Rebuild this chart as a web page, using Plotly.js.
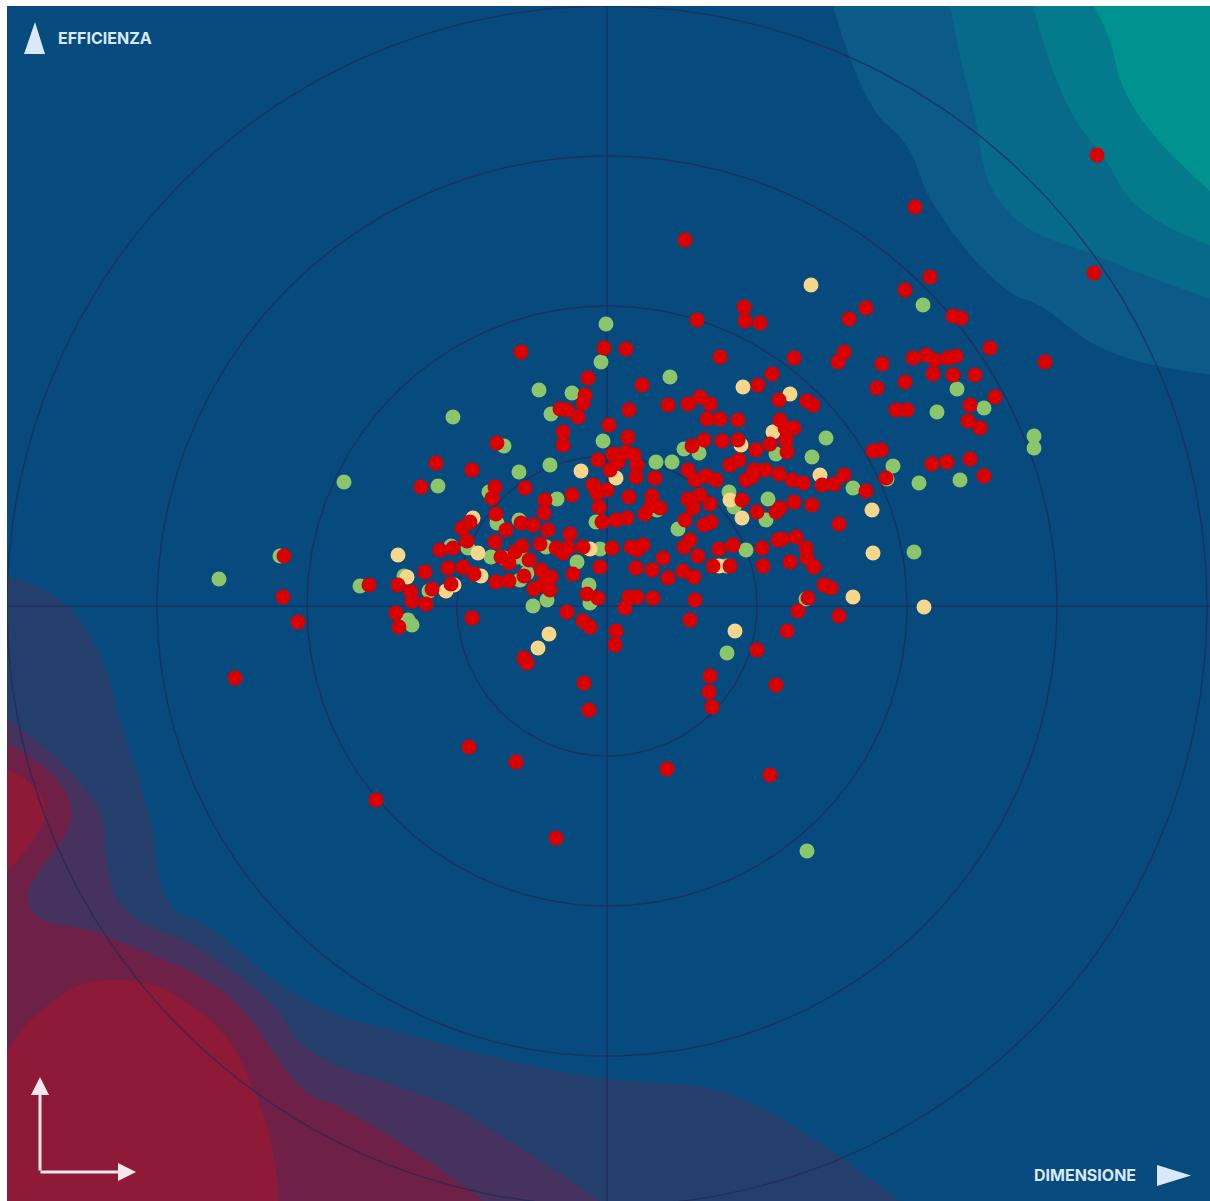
<!DOCTYPE html>
<html>
<head>
<meta charset="utf-8">
<script src="https://cdn.plot.ly/plotly-3.0.1.min.js"></script>
<style>html,body{margin:0;padding:0;background:#fff;}#chart{width:1210px;height:1201px;}</style>
</head>
<body>
<div id="chart"></div>
<script>
// ---- DATA (units: dimensione / efficienza scores, centre = 0) ----
const redPts = [
[490,451],[308,399],[487,333],[78,366],[323,329],[298,316],[259,298],[242,287],[137,299],[138,285],[153,283],[90,286],
[346,290],[354,288],[383,258],[438,244],[-86,254],[-3,258],[19,257],[113,249],[187,248],[237,254],[231,244],[275,242],
[306,248],[319,251],[328,246],[341,248],[349,250],[165,232],[326,232],[346,231],[368,231],[-19,228],[35,221],[151,221],
[270,218],[298,224],[-22,211],[-24,203],[93,209],[103,202],[200,205],[206,201],[172,206],[388,209],[-47,197],[-40,196],
[-29,189],[22,196],[61,201],[81,202],[100,187],[113,187],[131,186],[173,186],[178,178],[187,178],[289,196],[300,196],
[361,185],[373,178],[363,201],[-44,174],[-44,161],[2,181],[21,169],[-110,163],[6,152],[19,154],[27,151],[11,144],
[30,141],[-9,146],[85,160],[97,166],[115,165],[131,166],[132,146],[149,156],[163,162],[179,166],[180,154],[123,141],
[147,136],[266,155],[274,156],[325,142],[340,144],[363,147],[-171,143],[-135,136],[3,136],[-186,119],[-112,119],[-82,118],
[-14,121],[-10,113],[0,116],[29,129],[48,128],[81,136],[88,126],[99,130],[109,126],[139,126],[145,129],[158,136],
[172,132],[185,126],[196,123],[215,121],[227,122],[237,131],[259,115],[279,128],[377,130],[-115,108],[-62,106],[-63,93],
[-35,111],[-8,99],[22,109],[45,110],[53,98],[81,107],[86,98],[93,111],[103,102],[135,106],[150,94],[169,94],
[173,98],[187,104],[205,101],[-145,78],[-137,84],[-111,92],[-101,76],[-86,83],[-74,81],[-59,76],[-37,72],[-5,84],
[9,86],[20,88],[38,92],[44,100],[78,86],[97,81],[104,84],[175,67],[189,69],[232,82],[-167,56],[-154,58],
[-140,65],[-112,64],[-92,54],[-85,60],[-67,62],[-51,58],[-44,53],[-39,58],[-24,59],[5,58],[24,59],[30,56],
[36,61],[56,48],[77,59],[83,66],[91,50],[112,57],[126,61],[155,58],[171,66],[199,58],[200,48],[207,39],
[76,35],[87,29],[106,40],[123,40],[156,40],[183,44],[-182,34],[-159,38],[-144,39],[-133,32],[-106,49],[-98,43],
[-78,46],[-66,36],[-56,29],[-34,32],[-7,39],[29,38],[45,36],[-238,21],[-209,21],[-196,14],[-175,17],[-156,22],
[-195,5],[-181,2],[-323,50],[-324,9],[-309,-16],[-211,-7],[-208,-21],[-135,-12],[-111,24],[-98,25],[-83,30],[-73,17],
[-65,21],[-57,16],[-40,-6],[-20,12],[-9,8],[18,-2],[22,9],[30,9],[46,8],[61,28],[88,6],[191,-5],
[201,8],[217,21],[224,18],[232,-10],[180,-25],[83,-14],[-24,-15],[-17,-21],[9,-25],[8,-39],[-83,-52],[-80,-57],
[-372,-72],[-23,-77],[-18,-104],[103,-70],[102,-86],[105,-101],[150,-44],[169,-79],[-138,-141],[-91,-156],[60,-163],[163,-169],
[-231,-194],[-51,-232]
];
const greenPts = [
[-1,282],[316,301],[-6,244],[63,229],[-68,216],[-35,213],[350,217],[-154,189],[-56,192],[330,194],[377,198],[219,168],
[427,170],[427,158],[-4,165],[-103,160],[77,157],[92,153],[169,152],[49,144],[65,144],[-57,141],[205,149],[286,140],
[-263,124],[-169,120],[-88,134],[-118,114],[-50,107],[122,114],[161,107],[246,118],[280,127],[312,123],[353,126],[-110,83],
[-88,86],[-11,84],[50,96],[71,77],[159,86],[127,99],[-156,60],[-139,58],[-116,49],[-103,48],[-90,49],[-61,59],
[-7,57],[-30,44],[-81,46],[139,56],[307,54],[-80,33],[-87,26],[-18,21],[119,40],[-388,27],[-327,50],[-247,20],
[-203,30],[-178,15],[-17,3],[-74,0],[-60,6],[199,7],[-199,-14],[-195,-19],[120,-47],[200,-245]
];
const yellowPts = [
[204,321],[136,219],[183,212],[166,174],[134,161],[-26,135],[9,128],[213,131],[123,106],[-134,88],[265,96],[135,88],
[-209,51],[-129,53],[-17,57],[266,53],[112,40],[-126,30],[-200,29],[-161,15],[-153,21],[246,9],[317,-1],[-58,-28],
[-69,-42],[128,-25]
];
// background density surface (rows from top y=600 to bottom y=-600)
const gridX = [-600,-500,-400,-300,-200,-100,0,100,200,300,400,500,610];
const gridY = [600,500,400,300,200,100,0,-100,-200,-300,-400,-500,-600];
const gridZ = [
[0,0,0,0,0,0,0,0.3,0.8,1.57,2.57,4.22,5],
[0,0,0,0,0,0,0,0.2,0.5,1.27,2.39,3.39,6],
[0,0,0,0,0,0,0,0.1,0.3,0.6,2.05,2.7,3.8],
[0,0,0,0,0,0,0,0,0.1,0.3,0.8,1.4,1.9],
[0,0,0,0,0,0,0,0,0,0.1,0.3,0.5,0.6],
[-0.3,0,0,0,0,0,0,0,0,0,0,0,0],
[-1.3,-0.8,0,0,0,0,0,0,0,0,0,0,0],
[-1.5,-1.1,0,0,0,0,0,0,0,0,0,0,0],
[-5.5,-1.6,-0.1,0,0,0,0,0,0,0,0,0,0],
[-3.2,-2.3,-0.3,-0.2,0,0,0,0,0,0,0,0,0],
[-3.6,-4.6,-3.9,-1.05,-0.5,-0.3,-0.2,-0.1,-0.1,0,0,0,0],
[-4.5,-5,-4.8,-3.3,-2.3,-1.6,-1.3,-1.2,-0.8,-0.3,0,0,0],
[-5,-5,-5,-3.6,-4,-2.8,-2.0,-1.6,-1.5,-1.0,-0.4,0,0]
];
const ringRadii = [150, 300, 450, 600];
const xRange = [-600, 603];
const yRange = [-595, 600];

// ---- STYLE ----
const C = {
  base:'#064a7e', r1:'#243f6b', r2:'#45325f', r3:'#6e2046', r4:'#8e1a37',
  t1:'#0b5a88', t2:'#076a8b', t3:'#037b8d', t4:'#00928f',
  ring:'rgba(36,42,86,0.75)', red:'#d90000', green:'#8cc66b', yellow:'#f6d68a', label:'#d9e9f8'
};

const traces = [];
traces.push({
  type:'contour', x:gridX, y:gridY.slice().reverse(), z:gridZ.slice().reverse(),
  autocontour:false, contours:{start:-4, end:4, size:1, coloring:'fill', showlines:false},
  line:{width:0, smoothing:1.3}, showscale:false, hoverinfo:'skip',
  colorscale:[[0,C.r4],[1/9,C.r3],[2/9,C.r2],[3/9,C.r1],[4/9,C.base],[5/9,C.base],[6/9,C.t1],[7/9,C.t2],[8/9,C.t3],[1,C.t4]]
});
ringRadii.forEach(r => {
  const xs = [], ys = [];
  for (let a = 0; a <= 360; a += 1) { xs.push(r*Math.cos(a*Math.PI/180)); ys.push(r*Math.sin(a*Math.PI/180)); }
  traces.push({type:'scatter', mode:'lines', x:xs, y:ys, line:{color:C.ring, width:1.4}, hoverinfo:'skip', showlegend:false});
});
traces.push({type:'scatter', mode:'lines', x:[xRange[0], xRange[1]], y:[0,0], line:{color:C.ring, width:1.4}, hoverinfo:'skip'});
traces.push({type:'scatter', mode:'lines', x:[0,0], y:[yRange[0], yRange[1]], line:{color:C.ring, width:1.4}, hoverinfo:'skip'});

function pts(list, color){
  return {type:'scatter', mode:'markers', x:list.map(p=>p[0]), y:list.map(p=>p[1]),
    marker:{color:color, size:15, line:{width:0}}, hoverinfo:'skip'};
}
traces.push(pts(greenPts, C.green));
traces.push(pts(yellowPts, C.yellow));
traces.push(pts(redPts, C.red));

const W = 1210, H = 1201, ml = 7, mt = 6;
const pw = W - ml, ph = H - mt;
const px = v => (v - ml) / pw;
const py = v => (H - v) / ph;

const layout = {
  width:W, height:H, margin:{l:ml, r:0, t:mt, b:0, pad:0},
  paper_bgcolor:'#ffffff', plot_bgcolor:C.base, showlegend:false,
  xaxis:{range:xRange, showgrid:false, zeroline:false, showticklabels:false, ticks:'', fixedrange:true},
  yaxis:{range:yRange, showgrid:false, zeroline:false, showticklabels:false, ticks:'', fixedrange:true},
  shapes:[
    {type:'path', xref:'paper', yref:'paper', line:{width:0}, fillcolor:C.label,
     path:`M ${px(35)} ${py(22)} L ${px(45)} ${py(54)} L ${px(24)} ${py(54)} Z`},
    {type:'path', xref:'paper', yref:'paper', line:{width:0}, fillcolor:C.label,
     path:`M ${px(1157)} ${py(1165)} L ${px(1191)} ${py(1175.5)} L ${px(1157)} ${py(1186)} Z`}
  ],
  annotations:[
    {xref:'paper', yref:'paper', x:px(56), y:py(38), xanchor:'left', yanchor:'middle', showarrow:false,
     text:'<b>EFFICIENZA</b>', font:{family:'Inter, Roboto, sans-serif', size:16, color:C.label}},
    {xref:'paper', yref:'paper', x:px(1138), y:py(1175), xanchor:'right', yanchor:'middle', showarrow:false,
     text:'<b>DIMENSIONE</b>', font:{family:'Inter, Roboto, sans-serif', size:16, color:C.label}},
    {xref:'paper', yref:'paper', x:px(40), y:py(1077), ax:0, ay:95, text:'', showarrow:true,
     arrowhead:2, arrowsize:1.2, arrowwidth:3, arrowcolor:'#f4e8ec', standoff:0, startstandoff:0},
    {xref:'paper', yref:'paper', x:px(136), y:py(1172), ax:-97, ay:0, text:'', showarrow:true,
     arrowhead:2, arrowsize:1.2, arrowwidth:3, arrowcolor:'#f4e8ec', standoff:0, startstandoff:0}
  ]
};

Plotly.newPlot('chart', traces, layout, {displayModeBar:false, staticPlot:true});
</script>
</body>
</html>
